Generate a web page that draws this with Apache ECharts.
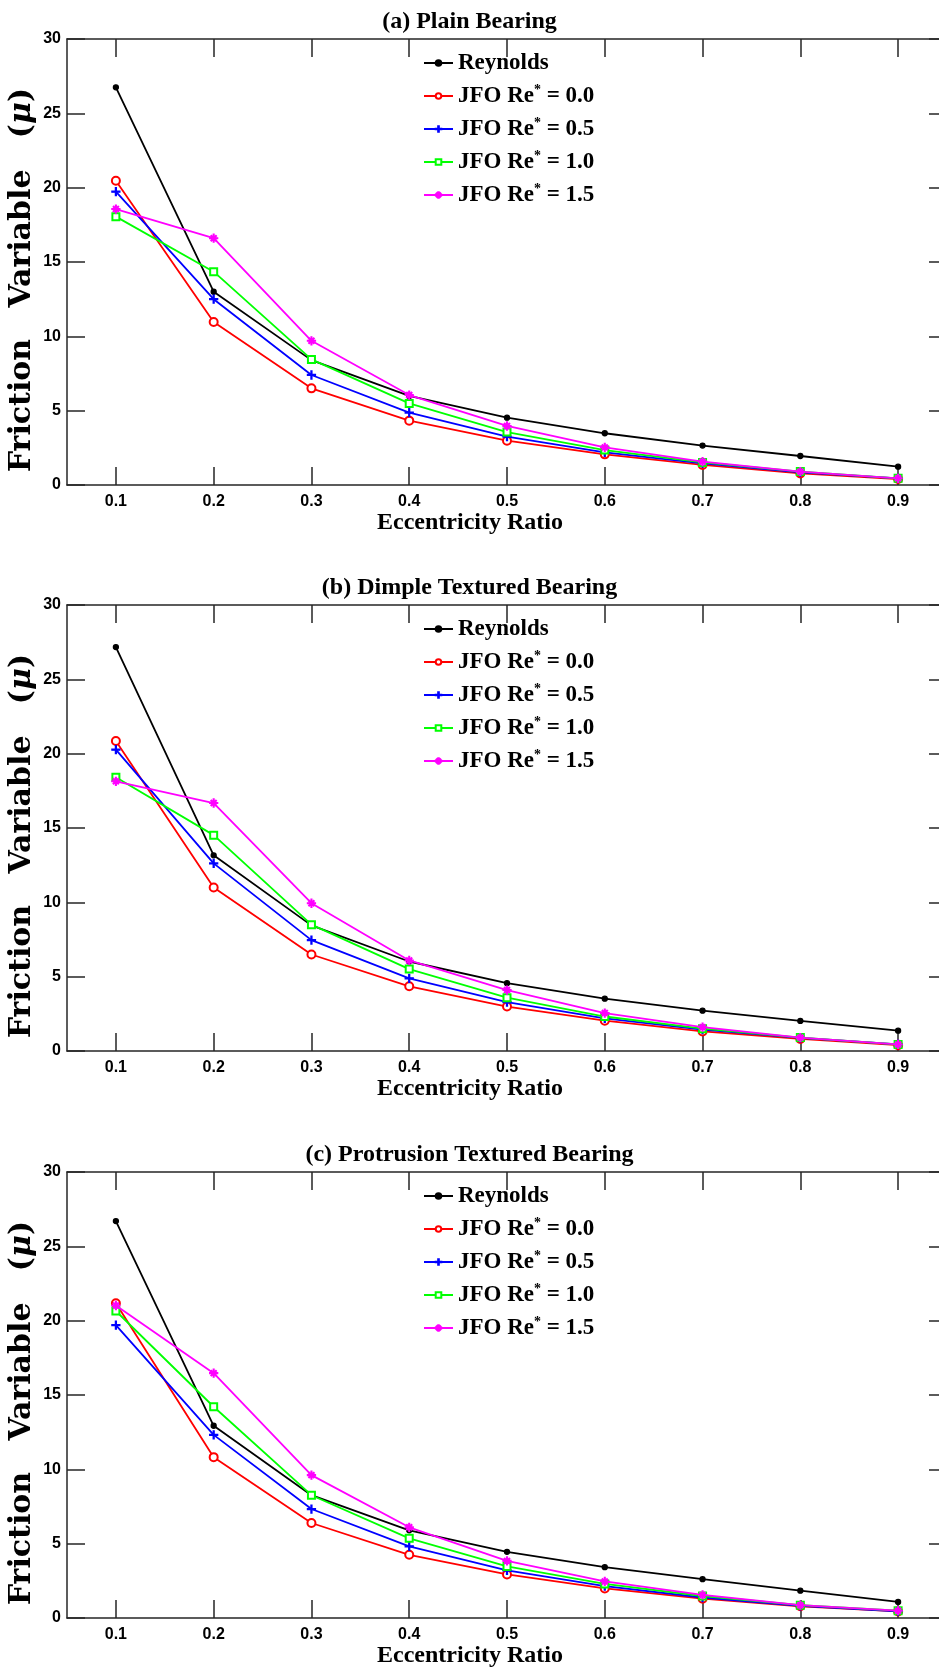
<!DOCTYPE html>
<html><head><meta charset="utf-8">
<script src="https://cdn.jsdelivr.net/npm/echarts@6/dist/echarts.min.js"></script>
<style>html,body{margin:0;padding:0;background:#fff}#c{width:939px;height:1673px}</style>
</head><body><div id="c"></div><script>
// ---- data ----
const categories = ['0.1','0.2','0.3','0.4','0.5','0.6','0.7','0.8','0.9'];
const seriesNames = ['Reynolds','JFO Re* = 0.0','JFO Re* = 0.5','JFO Re* = 1.0','JFO Re* = 1.5'];
const panelTitles = ['(a) Plain Bearing','(b) Dimple Textured Bearing','(c) Protrusion Textured Bearing'];

const plainReynolds = [26.75, 13.0, 8.4, 5.99, 4.53, 3.48, 2.65, 1.95, 1.23];
const plainJfo00    = [20.47, 10.96, 6.5, 4.33, 2.98, 2.06, 1.35, 0.78, 0.40];
const plainJfo05    = [19.73, 12.5, 7.4, 4.87, 3.25, 2.2, 1.46, 0.85, 0.45];
const plainJfo10    = [18.05, 14.35, 8.45, 5.49, 3.56, 2.35, 1.52, 0.9, 0.45];
const plainJfo15    = [18.56, 16.6, 9.7, 6.05, 3.97, 2.53, 1.57, 0.9, 0.45];

const dimpleReynolds = [27.17, 13.16, 8.45, 6.02, 4.56, 3.52, 2.71, 2.02, 1.37];
const dimpleJfo00    = [20.85, 11.0, 6.49, 4.35, 2.99, 2.04, 1.32, 0.81, 0.39];
const dimpleJfo05    = [20.27, 12.62, 7.46, 4.89, 3.29, 2.2, 1.44, 0.88, 0.44];
const dimpleJfo10    = [18.42, 14.52, 8.5, 5.51, 3.59, 2.32, 1.5, 0.9, 0.44];
const dimpleJfo15    = [18.14, 16.68, 9.94, 6.09, 4.1, 2.55, 1.6, 0.9, 0.44];

const protReynolds = [26.7, 12.93, 8.26, 5.9, 4.45, 3.42, 2.61, 1.84, 1.08];
const protJfo00    = [21.17, 10.82, 6.39, 4.25, 2.93, 1.99, 1.3, 0.79, 0.44];
const protJfo05    = [19.7, 12.32, 7.33, 4.82, 3.2, 2.14, 1.38, 0.81, 0.44];
const protJfo10    = [20.65, 14.21, 8.26, 5.36, 3.47, 2.29, 1.48, 0.86, 0.49];
const protJfo15    = [21.02, 16.47, 9.61, 6.1, 3.84, 2.46, 1.55, 0.86, 0.49];

const panelData = [
  [plainReynolds, plainJfo00, plainJfo05, plainJfo10, plainJfo15],
  [dimpleReynolds, dimpleJfo00, dimpleJfo05, dimpleJfo10, dimpleJfo15],
  [protReynolds, protJfo00, protJfo05, protJfo10, protJfo15]
];

// ---- styling ----
const colors = ['#000000','#ff0000','#0000ff','#00ff00','#ff00ff'];
const plusPath = 'path://M4.4,0 H5.6 V4.4 H10 V5.6 H5.6 V10 H4.4 V5.6 H0 V4.4 H4.4 Z';
const starPath = 'path://M4.5,0 H5.5 V4.5 H10 V5.5 H5.5 V10 H4.5 V5.5 H0 V4.5 H4.5 Z M1.5,2.2 L2.2,1.5 L8.5,7.8 L7.8,8.5 Z M7.8,1.5 L8.5,2.2 L2.2,8.5 L1.5,7.8 Z';
const symbols = ['circle','emptyCircle',plusPath,'emptyRect',starPath];
const symbolSizes = [5, 8, 8, 7, 8];
const serif = '"Liberation Serif", "Times New Roman", serif';
const sans = '"Liberation Sans", Arial, sans-serif';
const axisColor = '#262626';

const gridTops = [39, 605, 1172];
const gridH = 446;
const gridLeft = 67, gridW = 880;

const option = {
  animation: false,
  backgroundColor: '#ffffff',
  title: [], grid: [], xAxis: [], yAxis: [], legend: [], series: []
};

gridTops.forEach((top, p) => {
  option.title.push({
    text: panelTitles[p], left: 'center', top: top - 34,
    textStyle: {fontFamily: serif, fontWeight: 'bold', fontSize: 24, color: '#000'}
  });
  option.grid.push({left: gridLeft, width: gridW, top: top, height: gridH,
    containLabel: false, outerBoundsMode: 'none'});
  const tick = {show: true, inside: true, length: 18, alignWithLabel: true, lineStyle: {color: axisColor, width: 1.5}};
  const line = {show: true, onZero: false, lineStyle: {color: axisColor, width: 1.5}};
  option.xAxis.push({
    type: 'category', gridIndex: p, data: categories, boundaryGap: true, position: 'bottom',
    axisLine: line, axisTick: tick,
    axisLabel: {fontFamily: sans, fontWeight: 'bold', fontSize: 16, color: '#000', margin: 9, interval: 0},
    name: 'Eccentricity Ratio', nameLocation: 'middle', nameGap: 23,
    nameTextStyle: {fontFamily: serif, fontWeight: 'bold', fontSize: 24, color: '#000', padding: [0, 74, 0, 0]}
  });
  option.xAxis.push({
    type: 'category', gridIndex: p, data: categories, boundaryGap: true, position: 'top',
    axisLine: line, axisTick: tick, axisLabel: {show: false}
  });
  const ytick = {show: true, inside: true, length: 18, lineStyle: {color: axisColor, width: 1.5}};
  option.yAxis.push({
    type: 'value', gridIndex: p, min: 0, max: 30, interval: 5, position: 'left',
    axisLine: line, axisTick: ytick, splitLine: {show: false},
    axisLabel: {fontFamily: sans, fontWeight: 'bold', fontSize: 16, color: '#000', margin: 6},
    name: 'Friction   Variable   ({mu|μ})', nameLocation: 'middle', nameGap: 30, nameRotate: 90,
    nameMoveOverlap: false,
    nameTextStyle: {fontFamily: '"DejaVu Serif", serif', fontWeight: 'bold', fontSize: 30, color: '#000',
      padding: [0, 36, 0, 0],
      rich: {mu: {fontFamily: '"DejaVu Serif", serif', fontWeight: 'bold', fontStyle: 'italic', fontSize: 30, color: '#000'}}}
  });
  option.yAxis.push({
    type: 'value', gridIndex: p, min: 0, max: 30, interval: 5, position: 'right',
    axisLine: line, axisTick: ytick, splitLine: {show: false}, axisLabel: {show: false}
  });
  option.legend.push({
    data: seriesNames, orient: 'vertical', left: 423, top: top + 12, padding: 0,
    itemWidth: 29, itemHeight: 7, itemGap: 8, selectedMode: false,
    formatter: n => n.replace('Re*', 'Re{sup|*}'),
    textStyle: {fontFamily: serif, fontWeight: 'bold', fontSize: 23, color: '#000', lineHeight: 24,
      rich: {sup: {fontFamily: serif, fontWeight: 'bold', fontSize: 14, color: '#000', padding: [0, 0, 12, 0]}}}
  });
  seriesNames.forEach((n, s) => {
    option.series.push({
      name: n, type: 'line', xAxisIndex: 2 * p, yAxisIndex: 2 * p,
      data: panelData[p][s],
      symbol: symbols[s], symbolSize: symbolSizes[s], showAllSymbol: true,
      lineStyle: {color: colors[s], width: 1.8},
      itemStyle: {color: colors[s], borderColor: colors[s], borderWidth: 1.3},
      emphasis: {disabled: true}, z: 2 + s
    });
  });
});

const chart = echarts.init(document.getElementById('c'), null, {renderer: 'canvas'});
chart.setOption(option);
</script></body></html>
